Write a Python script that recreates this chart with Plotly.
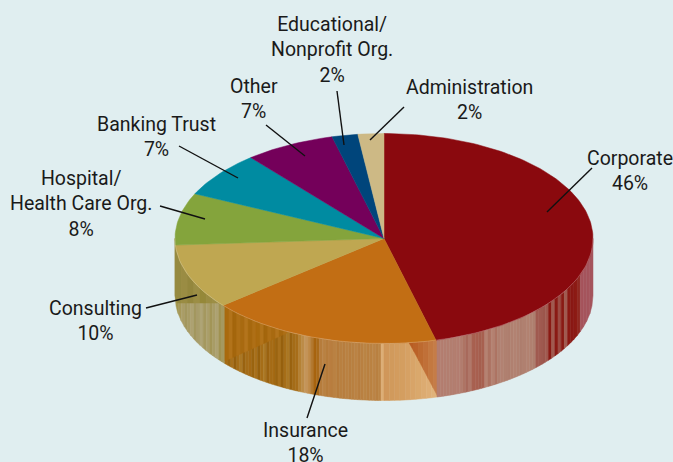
import math
import plotly.graph_objects as go

# ---- data ----
categories = ["Corporate", "Insurance", "Consulting", "Hospital/Health Care Org.",
              "Banking Trust", "Other", "Educational/Nonprofit Org.", "Administration"]
shares = [46, 18, 10, 8, 7, 7, 2, 2]
slice_colors = ["#8a090e", "#c26e14", "#bfa751", "#84a43c", "#008ba1", "#74005a", "#00457b", "#cdb985"]

label_text = ["Corporate<br>46%", "Insurance<br>18%", "Consulting<br>10%",
              "Hospital/<br>Health Care Org.<br>8%", "Banking Trust<br>7%", "Other<br>7%",
              "Educational/<br>Nonprofit Org.<br>2%", "Administration<br>2%"]
label_xy = [(630, 171), (305, 443), (95, 321), (81, 204), (156, 137), (254, 99), (332, 50), (469, 100)]
leader_lines = [((592, 168), (547, 212)), ((325, 364), (307, 418)), ((146, 308), (197, 295)),
                ((160, 206), (205, 219)), ((179, 146), (238, 178)), ((266, 125), (305, 156)),
                ((337, 91), (344, 145)), ((404, 107), (370, 140))]

BG = "#e0eef0"
CX, CY, RX, RY, DEPTH = 384, 238.5, 209, 105, 57


def rim(t_deg):
    t = math.radians(t_deg)
    return CX + RX * math.sin(t), CY - RY * math.cos(t)


def top_y(x):
    u = max(0.0, 1 - ((x - CX) / RX) ** 2)
    return CY + RY * math.sqrt(u)


fig = go.Figure()


def poly(xs, ys, color):
    fig.add_trace(go.Scatter(x=xs, y=ys, mode="lines", fill="toself", fillcolor=color,
                             line=dict(color=color, width=0.5), hoverinfo="skip", showlegend=False))


def strips(x0, x1, colors, lower=lambda x: top_y(x) + DEPTH):
    w = (x1 - x0) / len(colors)
    for i, c in enumerate(colors):
        a = x0 + i * w
        b = a + w
        xs = [a + (b - a) * k / 3 for k in range(4)]
        poly(xs + xs[::-1] + [a],
             [top_y(x) for x in xs] + [max(top_y(x), lower(x)) for x in xs[::-1]] + [top_y(a)], c)


# walls: lower (reflection) layer first
cons_low = ["#a4964f", "#a59858", "#aa9e68", "#a3975e", "#a89c66", "#ada272", "#a3975f", "#a89d6a",
            "#aea476", "#a4985f", "#aa9f6c", "#a29557", "#a89c66", "#ada272", "#a09352", "#a59960"]
strips(175, 225, cons_low)
cons_up = ["#968a40", "#9a8c43", "#94873d", "#9c8e45", "#958839", "#9a8c42", "#9c8e45", "#94873c"]
strips(175, 225, cons_up, lower=lambda x: min(303, top_y(x) + DEPTH))

ins_low = (["#a56a14", "#9b6410", "#a8701c", "#96600e", "#a66e18", "#ab7824", "#9a6310", "#a56c18"] * 3
           + ["#a86e1a", "#b58235", "#bd8c48", "#c4955a", "#c08c4a", "#b37a32", "#a8640f", "#aa6a18",
              "#b67c3c", "#ba8244", "#b67c3c", "#b97f40", "#b87e3f", "#ba8243", "#b67c3c", "#b98041",
              "#b87e3f", "#ba8243", "#b87e3f", "#b98041", "#bb8344", "#b87e3f", "#b98041", "#bb8445",
              "#b98041", "#ba8243", "#bc8546", "#b98041", "#bb8445", "#dcae76"])
strips(225, 384, ins_low)
ins_up = ["#a96a0e", "#b2731a", "#a4660c", "#ae6f16", "#a86a10", "#b3741c", "#a6680e", "#ae6f16"] * 2
strips(225, 287, ins_up, lower=lambda x: 361 - (x - 225) * 28 / 62)

strips(384, 437, ["#d0975a", "#d19a5c", "#d39c5e", "#d49e60", "#d6a164", "#d8a468", "#daa86c",
                  "#dcab71", "#deae75", "#e0b27a"])
strips(409, 438, ["#b85c22", "#bb6228", "#bd6a30", "#c07038", "#c37840", "#c57c48"],
       lower=lambda x: 342 + (x - 409) * 55 / 29)

corp = (["#b37e70"] * 8 + ["#ae7464", "#a86a5c", "#b0786a", "#a86050", "#a86050", "#a55e4e", "#a86050",
        "#b58272", "#ac7262", "#b58272", "#ad7464"]
        + ["#b08070", "#b28272", "#b08070", "#ae7e6e"] * 3
        + ["#a05a50", "#a05a50", "#9c564c", "#a05a50"]
        + ["#8a1a14", "#a05a50", "#8a1a14", "#9c4c44", "#8a1a14", "#a05a50"]
        + ["#8c1a14", "#8a1814", "#8c1a14", "#902820"]
        + ["#a5545c"] * 4)
strips(437, 593, corp)

# top faces, computed from the shares
start = 0.0
total = sum(shares)
for share, color in zip(shares, slice_colors):
    end = start + share / total * 360
    n = max(6, int(share * 3))
    pts = [rim(start + (end - start) * k / n) for k in range(n + 1)]
    poly([CX] + [p[0] for p in pts] + [CX], [CY] + [p[1] for p in pts] + [CY], color)
    start = end

# pale rim highlight on the front edge
arc = [rim(90 + k * 2) for k in range(91)]
fig.add_trace(go.Scatter(x=[p[0] for p in arc], y=[p[1] for p in arc], mode="lines",
                         line=dict(color="rgba(255,255,255,0.35)", width=0.6),
                         hoverinfo="skip", showlegend=False))

shapes = [dict(type="line", x0=a[0], y0=a[1], x1=b[0], y1=b[1], xref="x", yref="y",
               line=dict(color="#111111", width=1.4), layer="above") for a, b in leader_lines]
annotations = [dict(x=x, y=y, xref="x", yref="y", text=t, showarrow=False, align="center",
                    xanchor="center", yanchor="middle",
                    font=dict(family="Roboto", size=19.5, color="#1a1a1a"))
               for t, (x, y) in zip(label_text, label_xy)]

fig.update_layout(
    width=673, height=462, margin=dict(l=0, r=0, t=0, b=0), autosize=False,
    paper_bgcolor=BG, plot_bgcolor=BG, showlegend=False, shapes=shapes, annotations=annotations,
    xaxis=dict(range=[0, 673], visible=False, fixedrange=True),
    yaxis=dict(range=[462, 0], visible=False, fixedrange=True),
)
fig.write_html("out.html", config=dict(displayModeBar=False),
               post_script="document.body.style.margin='0';document.body.style.overflow='hidden';document.body.style.background='%s';" % BG)
